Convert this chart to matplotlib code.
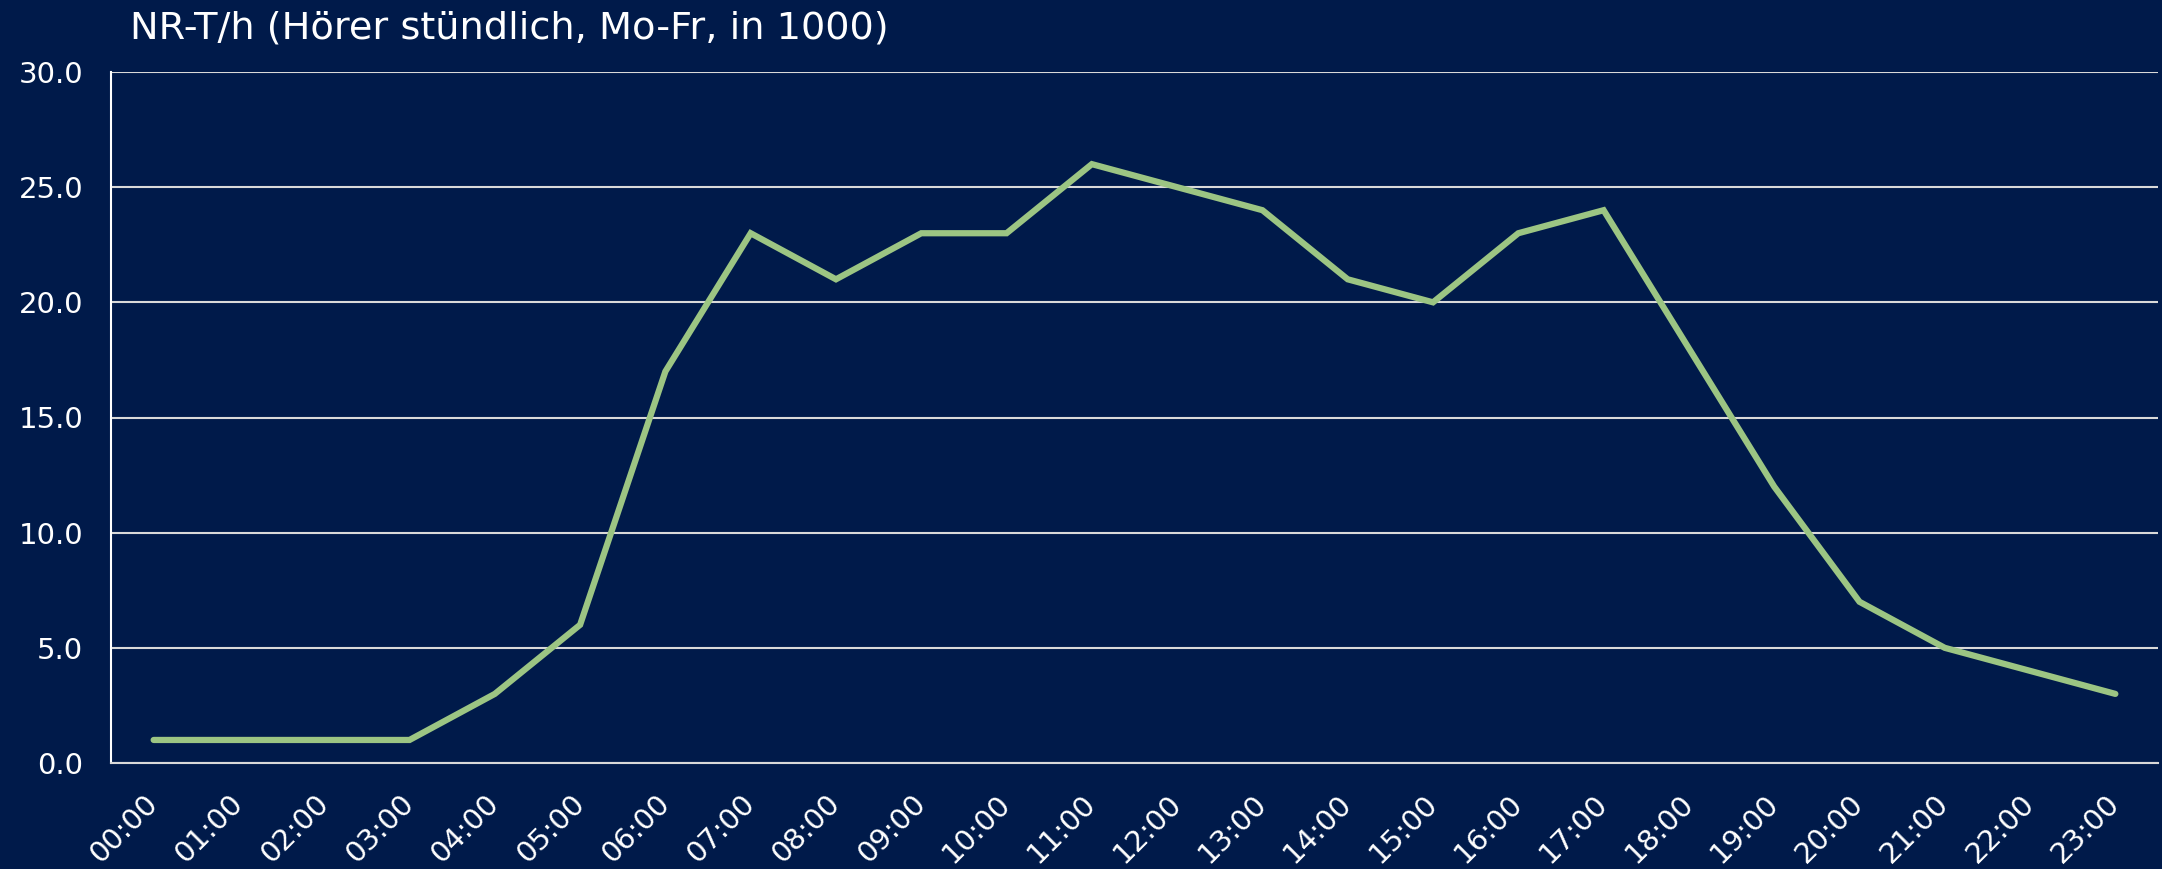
import matplotlib
matplotlib.use("Agg")
import matplotlib.pyplot as plt

hours = ["00:00", "01:00", "02:00", "03:00", "04:00", "05:00", "06:00", "07:00",
         "08:00", "09:00", "10:00", "11:00", "12:00", "13:00", "14:00", "15:00",
         "16:00", "17:00", "18:00", "19:00", "20:00", "21:00", "22:00", "23:00"]
listeners = [1, 1, 1, 1, 3, 6, 17, 23, 21, 23, 23, 26, 25, 24, 21, 20, 23, 24,
             18, 12, 7, 5, 4, 3]
y_ticks = [0, 5, 10, 15, 20, 25, 30]
title = "NR-T/h (Hörer stündlich, Mo-Fr, in 1000)"

BG = "#001A4A"
LINE = "#9CC583"
GRID = "#D9D9D9"

fig = plt.figure(figsize=(21.62, 8.69), dpi=100, facecolor=BG)
ax = fig.add_axes([111 / 2162, 1 - 763 / 869, (2158 - 111) / 2162, (763 - 72) / 869])
ax.set_facecolor(BG)

x = list(range(len(hours)))
ax.plot(x, listeners, color=LINE, lw=4.5, solid_capstyle="round",
        solid_joinstyle="miter", zorder=3)

ax.set_xlim(-0.5, len(hours) - 0.5)
ax.set_ylim(0, 30)
ax.set_yticks(y_ticks)
ax.set_yticklabels([f"{v:.1f}" for v in y_ticks])
ax.set_xticks(x)
ax.set_xticklabels(hours, rotation=45, ha="right", va="center",
                   rotation_mode="anchor")

ax.grid(axis="y", color=GRID, lw=1.5, zorder=1)
ax.set_axisbelow(True)
for s in ["top", "right"]:
    ax.spines[s].set_visible(False)
ax.spines["left"].set_color("white")
ax.spines["left"].set_linewidth(1.5)
ax.spines["bottom"].set_color(GRID)
ax.spines["bottom"].set_linewidth(1.5)

ax.tick_params(axis="both", length=0, colors="white", labelsize=21)
ax.tick_params(axis="y", pad=20)
ax.tick_params(axis="x", pad=26)

fig.text(130 / 2162, 1 - 39 / 869, title, color="white", fontsize=27.5,
         family="DejaVu Sans", ha="left", va="baseline")

fig.savefig("out.png", dpi=100, facecolor=BG)
